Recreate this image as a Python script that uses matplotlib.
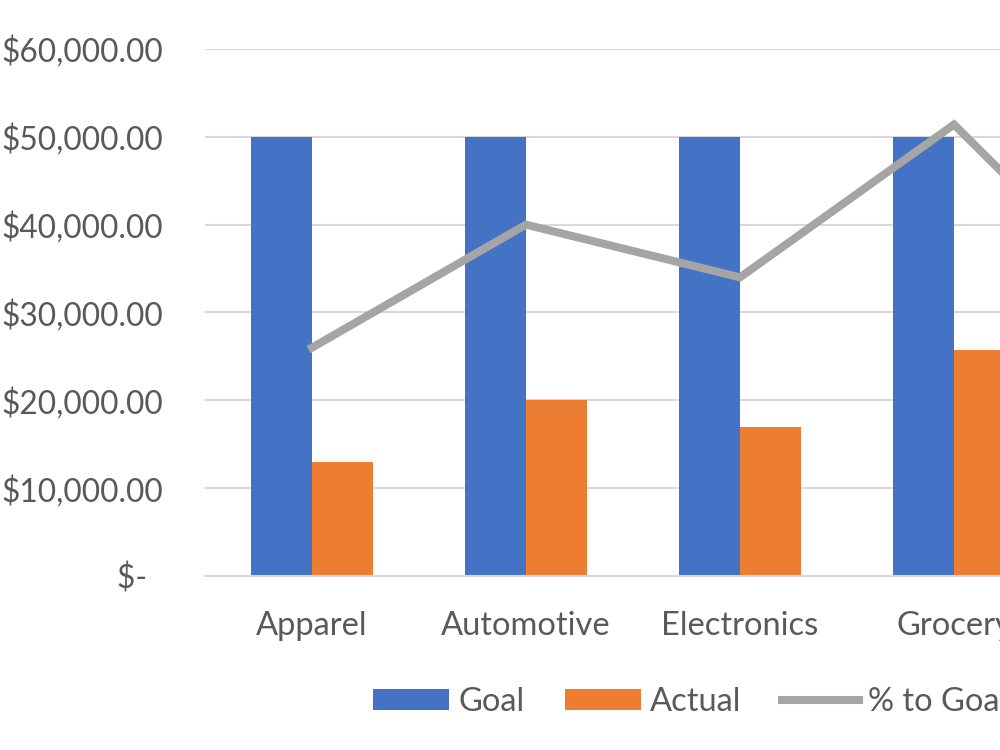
import numpy as np
import matplotlib.pyplot as plt
from matplotlib.ticker import FuncFormatter

plt.rcParams['font.family'] = ['Lato', 'DejaVu Sans']

categories = ['Apparel', 'Automotive', 'Electronics', 'Grocery', 'Home']
goal = [50000, 50000, 50000, 50000, 50000]
actual = [13000, 20000, 17000, 25700, 13600]
pct_to_goal = [a / g for a, g in zip(actual, goal)]

blue = '#4472C4'
orange = '#ED7D31'
gray = '#A5A5A5'
text_col = '#595959'
grid_col = '#D9D9D9'

fig = plt.figure(figsize=(10, 7.5), dpi=100)
# the chart is cropped on the right, so the axes run past the figure edge
ax = fig.add_axes([0.205, 0.232, 1.07, 0.7027])

x = np.arange(len(categories))
w = 0.285
ax.bar(x - w / 2, goal, w, color=blue, label='Goal', zorder=2)
ax.bar(x + w / 2, actual, w, color=orange, label='Actual', zorder=2)

ax.set_xlim(-0.5, len(categories) - 0.5)
ax.set_ylim(0, 60000)
ax.set_yticks(np.arange(0, 60001, 10000))


def money(v, pos):
    if v == 0:
        return '$-  '
    return '${:,.2f}'.format(v)


ax.yaxis.set_major_formatter(FuncFormatter(money))
ax.set_xticks(x)
ax.set_xticklabels(categories)
ax.tick_params(axis='y', length=0, pad=30, labelsize=22.8, labelcolor=text_col)
ax.tick_params(axis='x', length=0, pad=25, labelsize=23.5, labelcolor=text_col)
ax.grid(axis='y', color=grid_col, linewidth=1.5, zorder=0)
for s in ['top', 'right', 'left']:
    ax.spines[s].set_visible(False)
ax.spines['bottom'].set_color(grid_col)
ax.spines['bottom'].set_linewidth(1.5)

ax2 = ax.twinx()
ax2.plot(x, pct_to_goal, color=gray, linewidth=5.8, label='% to Goal',
         solid_joinstyle='miter', zorder=3)
ax2.set_ylim(0, 0.6)
ax2.axis('off')

h1, l1 = ax.get_legend_handles_labels()
h2, l2 = ax2.get_legend_handles_labels()
fig.legend(h1 + h2, l1 + l2, loc='center left', bbox_to_anchor=(0.373, 0.064),
           bbox_transform=fig.transFigure, ncol=3, frameon=False,
           fontsize=23.5, labelcolor=text_col, handlelength=2.33,
           handleheight=0.62, handletextpad=0.28, columnspacing=1.25,
           borderpad=0, borderaxespad=0)

fig.savefig('out.png', dpi=100)
